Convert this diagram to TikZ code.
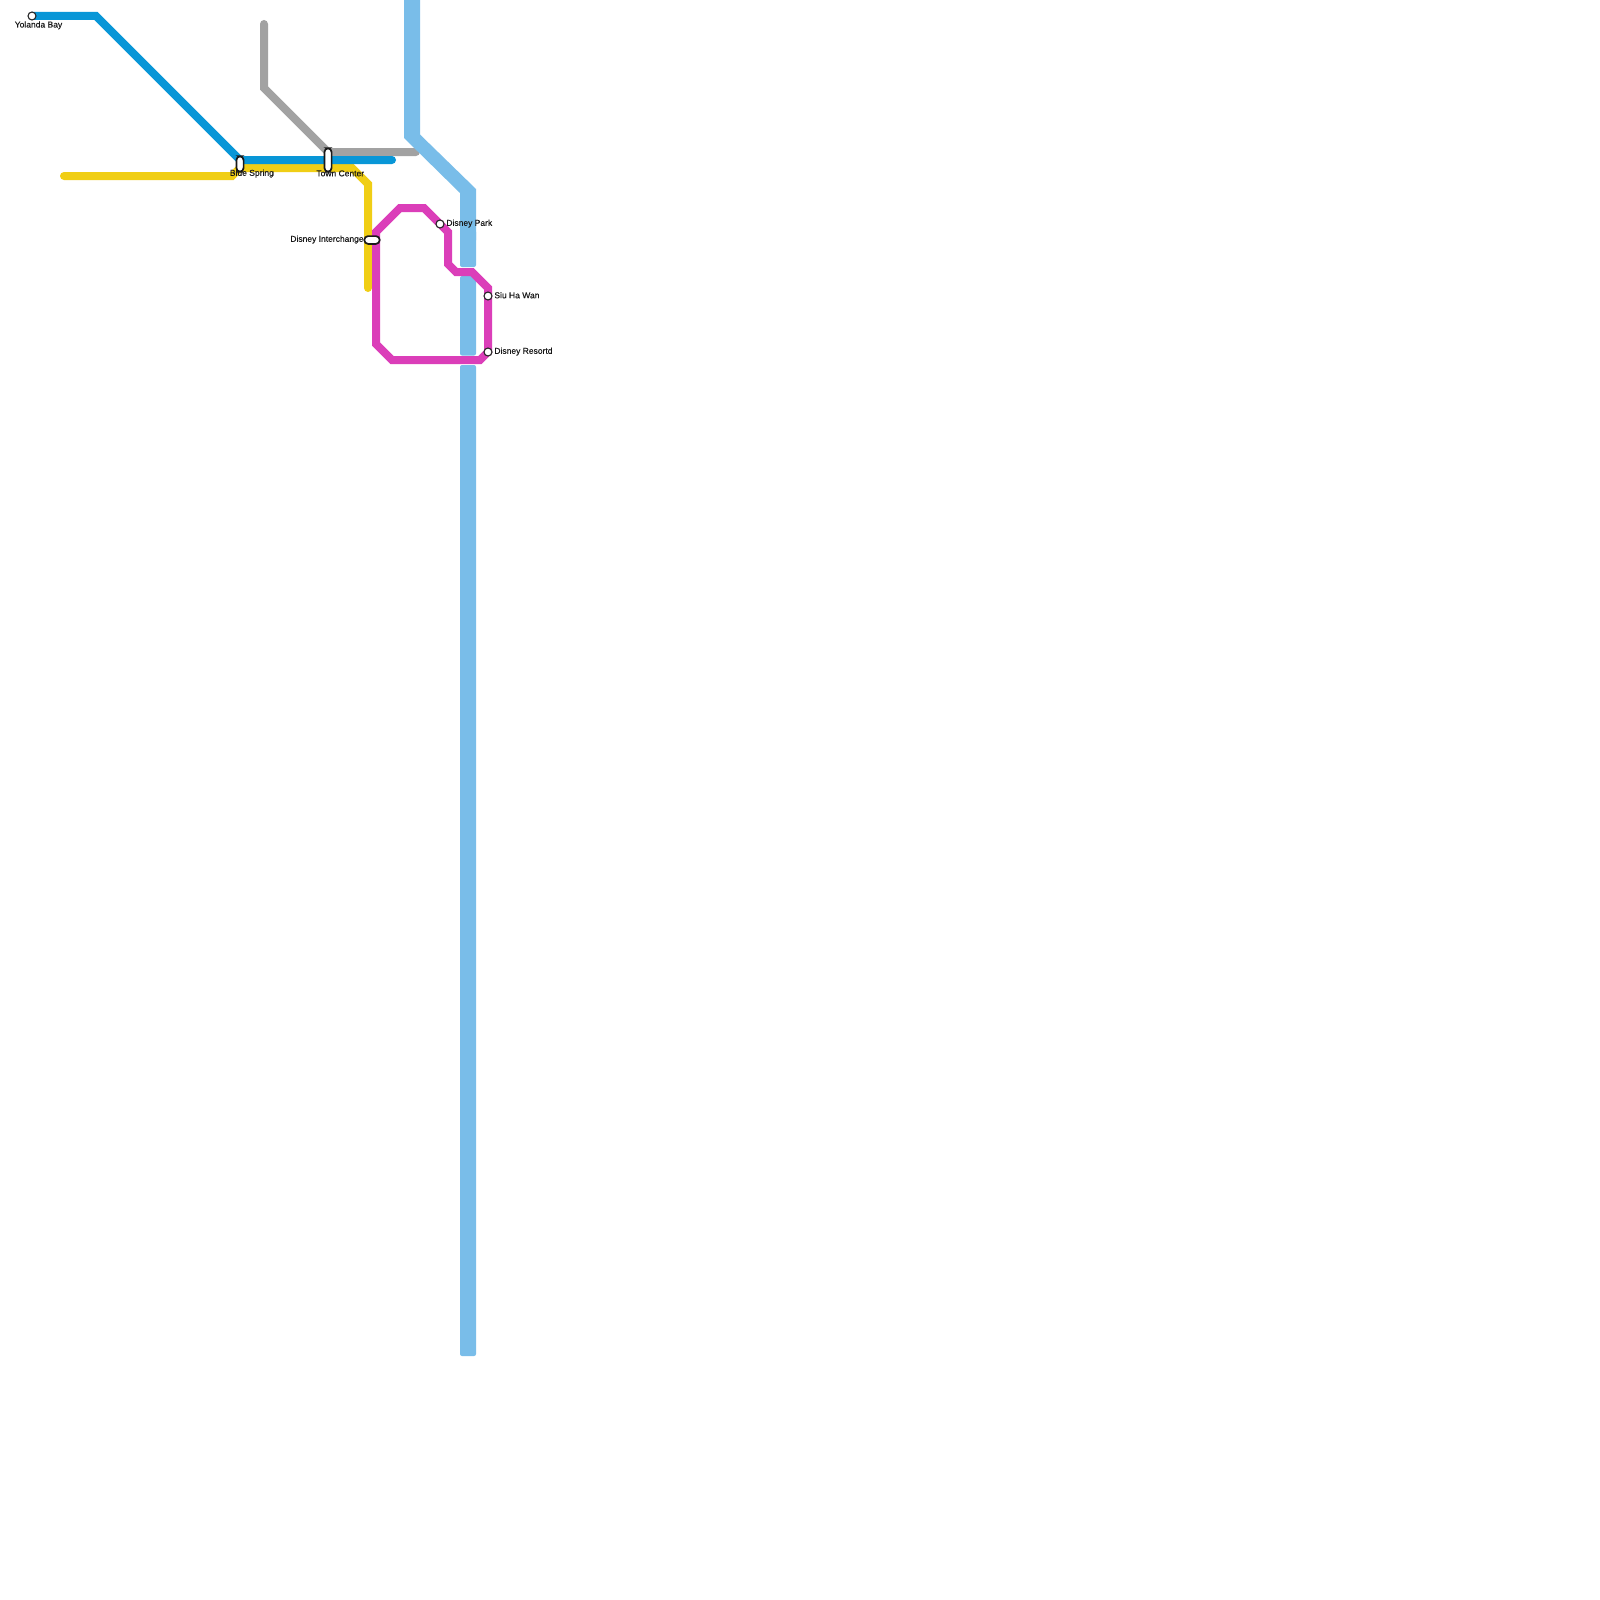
\documentclass[tikz,border=0pt]{standalone}
\usepackage{fontspec}
\setmainfont{Liberation Sans}
\newfontfamily\lblfont[FakeBold=0.2]{Liberation Sans}
\definecolor{lineblue}{HTML}{0896D7}
\definecolor{lineyellow}{HTML}{F0CE15}
\definecolor{linegray}{HTML}{A2A2A2}
\definecolor{linesky}{HTML}{79BDE9}
\definecolor{linemag}{HTML}{DB3EB9}
\tikzset{
  metro/.style={line width=4pt,line cap=round,line join=miter,miter limit=4},
  skyseg/.style={fill=linesky,rounded corners=1pt},
  dot/.style={circle,draw=black!85,fill=white,line width=0.55pt,minimum size=4pt,inner sep=0pt},
  pill/.style={rectangle,rounded corners=1.9pt,draw=black!90,fill=white,line width=0.85pt,inner sep=0pt},
  lbl/.style={font=\lblfont\fontsize{4.25pt}{5pt}\selectfont,inner sep=0pt,text=black!90}
}
\begin{document}
\begin{tikzpicture}[x=0.5pt,y=-0.5pt]
\useasboundingbox (0,0) rectangle (1600,1600);
\fill[white] (0,0) rectangle (1600,1600);
% free-end and bend coordinates
\coordinate (g0) at (264,24); \coordinate (g1) at (264,88); \coordinate (g2) at (328,152); \coordinate (g3) at (416,152);
\coordinate (y0) at (64,176); \coordinate (y1) at (232,176); \coordinate (y2) at (240,168); \coordinate (y3) at (352,168); \coordinate (y4) at (368,184); \coordinate (y5) at (368,288);
\coordinate (b1) at (96,16); \coordinate (b2) at (240,160); \coordinate (b3) at (392,160); \coordinate (b0) at (32,16);
\coordinate (m0) at (376,232); \coordinate (m1) at (400,208); \coordinate (m2) at (424,208); \coordinate (m3) at (448,232); \coordinate (m4) at (448,264); \coordinate (m5) at (456,272); \coordinate (m6) at (472,272); \coordinate (m7) at (488,288); \coordinate (m8) at (488,352); \coordinate (m9) at (480,360); \coordinate (m10) at (392,360); \coordinate (m11) at (376,344);
% lines
\draw[metro,linegray] (g0)--(g1)--(g2)--(g3);
\draw[metro,lineyellow] (y0)--(y1)--(y2)--(y3)--(y4)--(y5);
\draw[metro,lineblue] (b0)--(b1)--(b2)--(b3);
\fill[linesky] (404,-2)--(404,138)--(460,193)--(460,240)--(476,240)--(476,189)--(420,134.5)--(420,-2)--cycle;
\fill[skyseg] (460,230) rectangle (476,267);
\fill[skyseg] (460,276) rectangle (476,355.5);
\fill[skyseg] (460,365) rectangle (476,1356);
\draw[metro,linemag] (m0)--(m1)--(m2)--(m3)--(m4)--(m5)--(m6)--(m7)--(m8)--(m9)--(m10)--(m11)--cycle;
% stations
\node[dot] (yolanda) at (32,16) {};
\node[pill,minimum width=3.6pt,minimum height=7.7pt] (bluespring) at (240,164) {};
\node[pill,minimum width=3.6pt,minimum height=11.7pt] (towncenter) at (328,160) {};
\node[pill,minimum width=7.7pt,minimum height=3.9pt] (interchange) at (372,240) {};
\node[dot] (park) at (440,224) {};
\node[dot] (siuha) at (488,296) {};
\node[dot] (resort) at (488,352) {};
% labels
\node[lbl] (lyolanda) at (38.5,25.3) {Yolanda Bay};
\node[lbl,anchor=west] (lblue) at (229.5,173.6) {Blue Spring};
\node[lbl,anchor=west] (ltown) at (316,173.4) {Town Center};
\node[lbl,anchor=east] (lint) at (364,239.6) {Disney Interchange};
\node[lbl,anchor=west] (lpark) at (446,223.6) {Disney Park};
\node[lbl,anchor=west] (lsiu) at (494,295.2) {Siu Ha Wan};
\node[lbl,anchor=west] (lres) at (494,351.6) {Disney Resortd};
\end{tikzpicture}
\end{document}
